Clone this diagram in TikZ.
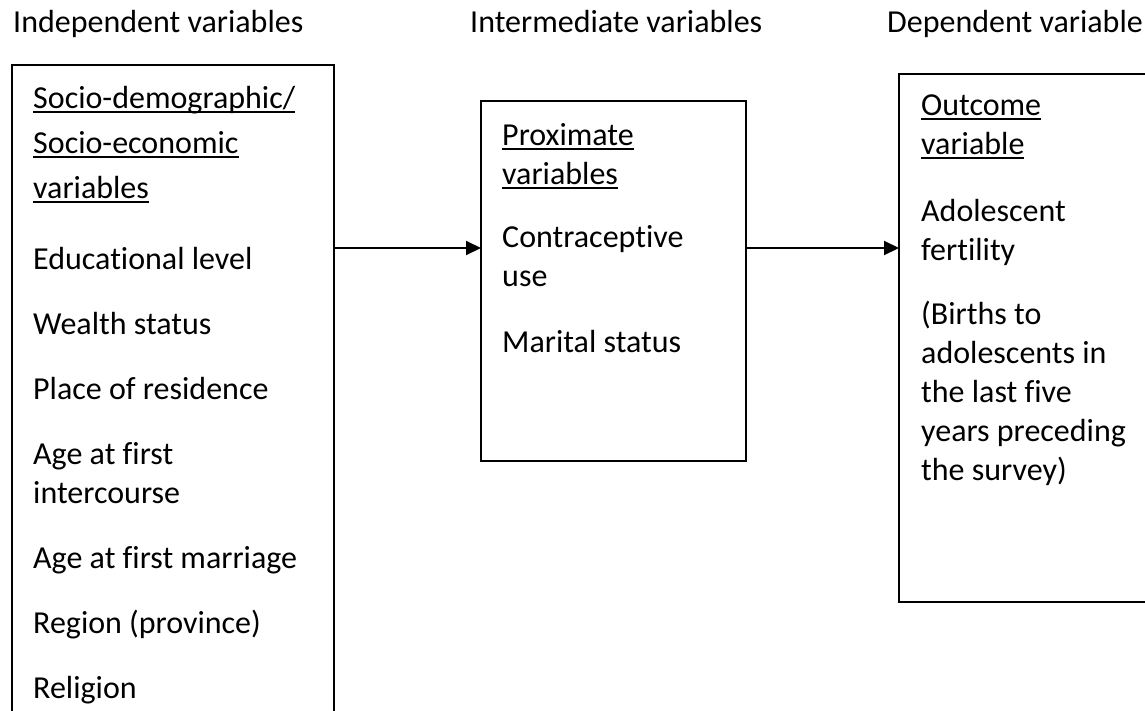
\documentclass[tikz,border=0pt]{standalone}
\usepackage{fontspec}
\setmainfont{Carlito}[Ligatures=NoCommon]
\usetikzlibrary{positioning,arrows.meta}
\newcommand{\undl}[1]{\setbox0=\hbox{#1}\rlap{\rule[-5pt]{\wd0}{2.2pt}}\box0}

\begin{document}
\begin{tikzpicture}[x=1pt,y=-1pt,font=\fontsize{32}{39}\selectfont,>={Triangle[length=15pt,width=14pt]},
  box/.style={draw,line width=2pt,inner sep=0pt,outer sep=0pt,anchor=north west},
  txt/.style={align=left,anchor=base west,inner sep=0pt}]
  \useasboundingbox (0,0) rectangle (1145,710);
  % column headings
  \node[txt] (indep) at (13,32) {Independent variables};
  \node[txt] (inter) at (470,32) {Intermediate variables};
  \node[txt] (depen) at (887,32) {Dependent variable};
  % boxes
  \node[box,minimum width=322,minimum height=680] (socio) at (12,65) {};
  \node[box,minimum width=265,minimum height=360] (prox) at (481,101) {};
  \node[box,line width=2.5pt,minimum width=260,minimum height=528] (outc) at (899,74) {};
  % box contents (placed by the baseline of the last line)
  \node[txt] (sociotx) at (33,698) {\undl{Socio-demographic/}\\[6pt]
    \undl{Socio-economic}\\[6pt]
    \undl{variables}\\[32pt]
    Educational level\\[26pt]
    Wealth status\\[26pt]
    Place of residence\\[26pt]
    Age at first\\
    intercourse\\[26pt]
    Age at first marriage\\[26pt]
    Region (province)\\[26pt]
    Religion};
  \node[txt] (proxtx) at (502,352) {\undl{Proximate}\\
    \undl{variables}\\[24pt]
    Contraceptive\\
    use\\[27pt]
    Marital status};
  \node[txt] (outctx) at (921,480) {\undl{Outcome}\\
    \undl{variable}\\[28pt]
    Adolescent\\
    fertility\\[25pt]
    (Births to\\
    adolescents in\\
    the last five\\
    years preceding\\
    the survey)};
  % arrows
  \coordinate (lvl) at (0,248);
  \draw[->,line width=2pt](socio.east |- lvl)--(prox.west |- lvl);
  \draw[->,line width=2pt](prox.east |- lvl)--(outc.west |- lvl);
\end{tikzpicture}
\end{document}
